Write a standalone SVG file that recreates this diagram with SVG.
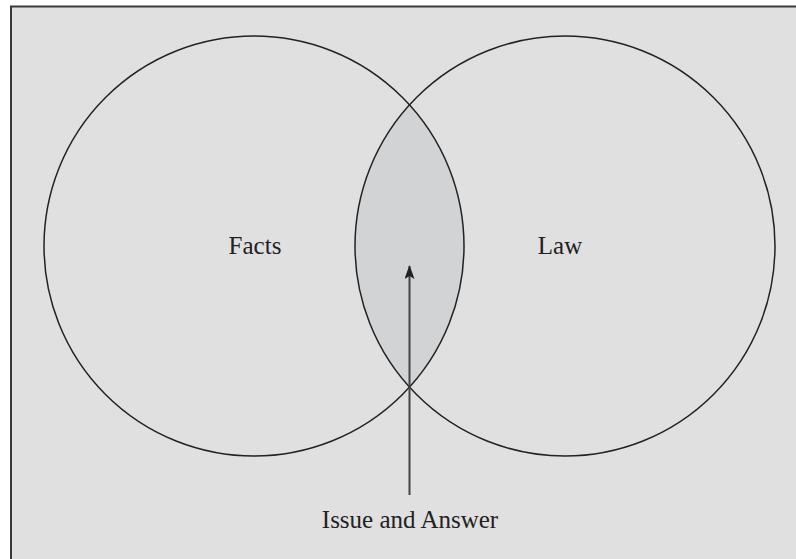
<svg xmlns="http://www.w3.org/2000/svg" width="796" height="559" viewBox="0 0 796 559">
<style>
.c{fill:none;stroke:#222;stroke-width:1.5}
text{font-family:'Liberation Serif','DejaVu Serif',serif;font-size:25px;fill:#222;text-anchor:middle}
</style>
<defs>
<marker id="ah" markerWidth="14" markerHeight="10" refX="13" refY="5" orient="auto" markerUnits="userSpaceOnUse" viewBox="0 0 14 10">
<path d="M14,5 L0,0 L3,5 L0,10 Z" fill="#222"/>
</marker>
</defs>
<rect x="0" y="0" width="796" height="559" fill="#fff"/>
<rect x="11" y="6.5" width="800" height="570" fill="#e0e0e0" stroke="#3a3a3a" stroke-width="2"/>
<g id="lens">
<path d="M409.5,105 A210,210 0 0 1 409.5,387 A210,210 0 0 1 409.5,105 Z" fill="#d2d3d5"/>
</g>
<g id="facts">
<circle class="c" cx="254" cy="246" r="210"/>
<text x="255" y="254" font-family="Liberation Serif, serif">Facts</text>
</g>
<g id="law">
<circle class="c" cx="565" cy="246" r="210"/>
<text x="560" y="254" font-family="Liberation Serif, serif">Law</text>
</g>
<g id="connectors">
<line x1="409.5" y1="495" x2="409.5" y2="266" stroke="#444" stroke-width="2" marker-end="url(#ah)"/>
</g>
<g id="issue">
<text x="410" y="528" font-family="Liberation Serif, serif">Issue and Answer</text>
</g>
</svg>
